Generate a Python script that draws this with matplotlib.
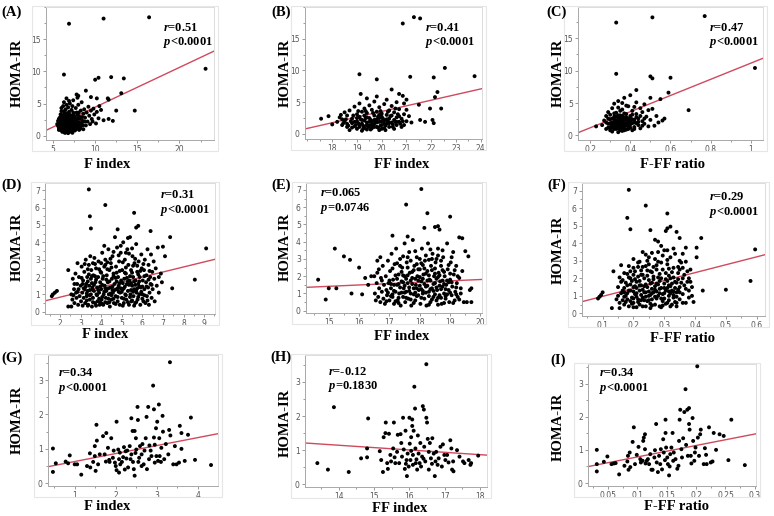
import numpy as np
import matplotlib
matplotlib.use("Agg")
import matplotlib.pyplot as plt
from matplotlib.ticker import AutoMinorLocator, FixedLocator
from matplotlib.patches import Rectangle

plt.rcParams['font.family'] = ['Liberation Serif', 'DejaVu Serif']
plt.rcParams['mathtext.fontset'] = 'custom'
plt.rcParams['mathtext.it'] = 'Liberation Serif:italic:bold'
plt.rcParams['mathtext.rm'] = 'Liberation Serif:bold'

W, H = 774, 516

# ---- data ----
pts_a = [(6.9, 17.4), (11.0, 18.2), (16.4, 18.4), (23.1, 10.4), (6.3, 9.5), (10.0, 8.7), (10.4, 9.0),
         (11.9, 9.1), (13.4, 8.9), (8.9, 7.0), (7.8, 6.4), (8.0, 6.2), (9.5, 6.0), (10.2, 5.8), (11.5, 5.8),
         (11.6, 5.6), (13.1, 6.6), (14.7, 3.9), (12.5, 3.9), (10.7, 4.0), (12.1, 2.3), (11.6, 2.6),
         (11.0, 2.4), (9.7, 2.2),
         (5.5, 1.8), (5.6, 2.3), (5.7, 1.2), (5.8, 2.8), (5.8, 1.5), (5.9, 3.3), (5.9, 0.9), (6.0, 2.0),
         (6.0, 1.3), (6.0, 3.8), (6.1, 2.5), (6.1, 1.0), (6.2, 4.6), (6.2, 1.7), (6.2, 3.0), (6.3, 0.7),
         (6.3, 2.2), (6.3, 5.2), (6.4, 1.4), (6.4, 3.5), (6.4, 2.8), (6.5, 0.5), (6.5, 1.9), (6.5, 4.1),
         (6.6, 1.1), (6.6, 2.6), (6.6, 5.8), (6.7, 3.2), (6.7, 0.8), (6.7, 1.6), (6.8, 2.1), (6.8, 4.4),
         (6.8, 0.4), (6.9, 1.3), (6.9, 2.9), (6.9, 3.7), (7.0, 1.8), (7.0, 0.9), (7.0, 5.0), (7.1, 2.4),
         (7.1, 1.2), (7.2, 3.1), (7.2, 0.6), (7.2, 4.0), (7.3, 1.7), (7.3, 2.7), (7.4, 1.0), (7.4, 3.6),
         (7.4, 5.5), (7.5, 2.2), (7.5, 1.4), (7.6, 2.9), (7.6, 0.8), (7.7, 4.3), (7.7, 1.9), (7.8, 2.5),
         (7.8, 1.1), (7.9, 3.3), (7.9, 5.9), (8.0, 1.6), (8.0, 2.1), (8.0, 4.8), (8.1, 3.0), (8.2, 1.3),
         (8.2, 2.6), (8.3, 3.9), (8.4, 1.9), (8.4, 5.2), (8.5, 2.3), (8.6, 3.4), (8.6, 1.0), (8.7, 4.1),
         (8.8, 2.8), (8.9, 1.6), (9.0, 3.6), (9.1, 2.2), (9.2, 4.5), (9.3, 3.1), (9.4, 1.8), (9.5, 3.9),
         (9.6, 2.6), (9.8, 4.2), (9.9, 3.3), (10.1, 1.9), (10.2, 3.7), (10.4, 2.7), (10.5, 4.6),
         (6.05, 1.55), (6.15, 2.05), (6.25, 1.25), (6.35, 1.85), (6.45, 2.35), (6.55, 1.45), (6.65, 2.15),
         (6.75, 1.25), (6.85, 1.75), (6.95, 2.45), (7.05, 1.45), (7.15, 1.95), (6.1, 0.6), (6.4, 0.45),
         (6.7, 0.55), (7.3, 0.45), (5.7, 2.6), (5.8, 1.9), (6.0, 2.7), (6.2, 2.6), (6.5, 3.0), (6.9, 0.65),
         (7.6, 1.3), (7.8, 3.6), (8.1, 0.9), (8.3, 1.5),
         (5.6, 1.5), (5.7, 0.9), (5.75, 2.0), (5.85, 1.2), (5.95, 2.3), (6.05, 0.8), (6.1, 3.2), (6.15, 1.15),
         (6.25, 1.9), (6.3, 3.8), (6.35, 1.0), (6.45, 2.6), (6.5, 1.2), (6.55, 3.5), (6.6, 0.7), (6.65, 1.8),
         (6.75, 2.9), (6.8, 1.5), (6.85, 0.9), (6.95, 3.3), (7.0, 2.2), (7.05, 0.7), (7.15, 2.8), (7.25, 1.4),
         (7.35, 2.2), (7.45, 3.2), (7.5, 0.9), (7.55, 1.8), (7.65, 2.4), (7.7, 1.0), (7.85, 1.5), (7.95, 2.7),
         (8.05, 3.6), (8.15, 2.0), (8.25, 1.1), (8.45, 2.9), (8.55, 1.6), (8.75, 2.2), (6.0, 4.3), (6.6, 4.8),
         (7.3, 4.6), (6.9, 5.4)]

pts_b = [(20.85, 17.4), (21.3, 18.4), (21.55, 18.2), (19.1, 9.4), (19.8, 8.6), (21.15, 9.0), (22.1, 8.9),
         (22.55, 10.4), (23.75, 9.1), (22.25, 6.6), (22.15, 5.8), (21.95, 4.0), (22.4, 4.0), (22.05, 2.2),
         (22.1, 1.7), (21.55, 2.2), (21.75, 1.9), (21.5, 4.6), (20.7, 6.3), (20.85, 6.0), (20.4, 7.0),
         (19.15, 6.3), (19.4, 5.6), (19.8, 5.9), (17.55, 2.4), (17.85, 2.8), (18.0, 1.5), (21.0, 3.8),
         (21.2, 1.8),
         (18.2, 1.9), (18.3, 2.6), (18.4, 1.4), (18.5, 3.4), (18.5, 2.0), (18.6, 1.1), (18.6, 2.9), (18.7, 3.7),
         (18.7, 0.6), (18.8, 1.7), (18.8, 2.4), (18.9, 4.3), (18.9, 1.2), (19.0, 3.1), (19.0, 2.0), (19.0, 0.8),
         (19.1, 4.8), (19.1, 2.7), (19.1, 1.5), (19.2, 3.5), (19.2, 0.5), (19.2, 2.2), (19.3, 1.0), (19.3, 4.0),
         (19.3, 2.9), (19.4, 1.8), (19.4, 3.3), (19.4, 0.7), (19.5, 2.5), (19.5, 1.3), (19.5, 4.5), (19.6, 2.0),
         (19.6, 3.8), (19.6, 0.9), (19.7, 1.6), (19.7, 2.9), (19.7, 5.1), (19.8, 1.1), (19.8, 2.3), (19.8, 3.5),
         (19.9, 0.6), (19.9, 1.9), (19.9, 4.2), (20.0, 2.7), (20.0, 1.4), (20.0, 3.2), (20.1, 0.9), (20.1, 2.1),
         (20.1, 4.7), (20.2, 1.6), (20.2, 3.0), (20.2, 5.4), (20.3, 2.4), (20.3, 1.1), (20.3, 3.7), (20.4, 1.8),
         (20.4, 2.9), (20.4, 4.4), (20.5, 0.8), (20.5, 2.2), (20.5, 3.4), (20.6, 1.4), (20.6, 2.6), (20.6, 5.0),
         (20.7, 1.9), (20.7, 3.9), (20.8, 2.4), (20.8, 1.1), (20.9, 3.1), (20.9, 4.8), (21.0, 2.0), (21.0, 5.4),
         (21.1, 2.8), (18.9, 1.9), (19.0, 2.5), (19.2, 1.6), (19.3, 2.1), (19.4, 2.6), (19.5, 1.9), (19.6, 1.5),
         (19.7, 2.2), (19.8, 1.8), (19.9, 2.5), (20.0, 2.0), (20.1, 1.6), (20.2, 2.3), (20.3, 1.7), (19.1, 1.1),
         (19.4, 1.4), (19.7, 1.1), (20.0, 0.8), (18.6, 1.6), (18.4, 2.3), (20.6, 1.9), (19.9, 3.0),
         (18.55, 2.3), (18.65, 1.3), (18.75, 2.0), (18.85, 2.9), (18.95, 1.4), (19.05, 1.7), (19.15, 2.3),
         (19.25, 1.3), (19.35, 2.5), (19.45, 1.1), (19.55, 2.2), (19.65, 1.2), (19.75, 1.9), (19.85, 2.7),
         (19.95, 1.3), (20.05, 2.4), (20.15, 1.3), (20.25, 2.0), (20.35, 2.8), (20.45, 1.5), (20.55, 1.9),
         (20.65, 3.1), (20.75, 1.6), (20.85, 2.0), (19.05, 3.6), (19.35, 3.6), (19.65, 3.3), (19.95, 3.6),
         (20.25, 3.5), (20.55, 4.0), (19.25, 0.8), (19.55, 0.7), (19.85, 1.0), (20.15, 0.6), (20.45, 1.1),
         (18.8, 1.0), (20.9, 1.4), (18.45, 1.7), (18.35, 3.0), (20.7, 2.8)]

pts_c = [(0.33, 17.4), (0.51, 18.2), (0.77, 18.4), (1.02, 10.4), (0.33, 9.5), (0.50, 9.1), (0.51, 8.8),
         (0.60, 8.9), (0.59, 6.6), (0.69, 3.9), (0.43, 7.0), (0.23, 1.4), (0.55, 5.6), (0.56, 2.3),
         (0.57, 2.6), (0.52, 1.5), (0.50, 5.8),
         (0.26, 1.6), (0.27, 2.3), (0.28, 1.0), (0.28, 3.0), (0.29, 1.8), (0.29, 3.6), (0.30, 0.8), (0.30, 2.5),
         (0.30, 1.3), (0.31, 4.2), (0.31, 2.0), (0.31, 0.6), (0.32, 2.9), (0.32, 1.5), (0.32, 4.9), (0.33, 1.0),
         (0.33, 2.3), (0.33, 3.5), (0.34, 0.5), (0.34, 1.8), (0.34, 2.7), (0.34, 5.3), (0.35, 1.2), (0.35, 3.1),
         (0.35, 2.1), (0.36, 0.7), (0.36, 1.6), (0.36, 4.0), (0.36, 2.5), (0.37, 1.1), (0.37, 3.4), (0.37, 5.8),
         (0.38, 1.9), (0.38, 2.8), (0.38, 0.9), (0.39, 2.2), (0.39, 4.5), (0.39, 1.4), (0.40, 3.0), (0.40, 6.2),
         (0.40, 1.7), (0.41, 2.5), (0.41, 0.8), (0.41, 3.8), (0.42, 1.3), (0.42, 2.0), (0.43, 3.3), (0.43, 5.1),
         (0.44, 1.6), (0.44, 2.6), (0.45, 4.2), (0.45, 1.1), (0.46, 2.2), (0.46, 3.6), (0.47, 1.8), (0.47, 4.8),
         (0.48, 2.9), (0.49, 1.4), (0.49, 3.9), (0.50, 2.4), (0.51, 4.1), (0.53, 3.0), (0.54, 2.0), (0.33, 1.6),
         (0.34, 2.2), (0.35, 1.5), (0.36, 2.0), (0.37, 1.5), (0.38, 2.4), (0.35, 2.6), (0.32, 2.0), (0.31, 1.2),
         (0.33, 2.9), (0.36, 3.0), (0.39, 1.0), (0.40, 2.2), (0.34, 1.1), (0.37, 2.4), (0.30, 3.2), (0.29, 2.6),
         (0.28, 2.0), (0.29, 1.2), (0.30, 1.9), (0.31, 2.6), (0.31, 1.6), (0.32, 1.0), (0.32, 3.4), (0.33, 2.0),
         (0.33, 1.3), (0.34, 1.5), (0.34, 3.1), (0.35, 0.8), (0.35, 1.8), (0.35, 3.8), (0.36, 1.3), (0.36, 2.3),
         (0.37, 1.9), (0.37, 2.8), (0.37, 0.8), (0.38, 1.5), (0.38, 3.3), (0.39, 1.8), (0.39, 2.6), (0.40, 1.2),
         (0.40, 2.6), (0.41, 1.9), (0.41, 3.2), (0.42, 2.4), (0.42, 1.0), (0.43, 1.9), (0.43, 2.8), (0.44, 2.1),
         (0.45, 3.0), (0.46, 1.5), (0.47, 2.6), (0.32, 2.5), (0.34, 4.3), (0.38, 4.6), (0.42, 4.4), (0.36, 5.0)]

pts_d = [(3.4, 7.05), (4.2, 6.15), (5.6, 5.7), (3.45, 5.5), (3.5, 4.8), (4.8, 4.75), (5.7, 4.85), (5.8, 4.95),
         (9.1, 3.65), (8.55, 1.85), (7.45, 1.35), (7.35, 4.3), (7.1, 3.2), (1.6, 0.9), (1.65, 1.0), (1.75, 1.1),
         (1.85, 1.2), (2.4, 2.4), (2.85, 2.8), (2.4, 0.3), (2.55, 0.3), (6.8, 2.0), (7.0, 3.75), (6.4, 4.65),
         (5.3, 4.25),
         (2.55, 1.0), (2.6, 0.7), (2.62, 1.9), (2.68, 1.3), (2.7, 0.5), (2.75, 2.2), (2.78, 1.1), (2.8, 0.8),
         (2.83, 1.6), (2.88, 0.4), (2.9, 1.3), (2.92, 2.0), (2.95, 0.9),
         (3.0, 1.5), (3.02, 0.6), (3.05, 2.6), (3.08, 1.1), (3.1, 0.35), (3.12, 1.8), (3.15, 0.8), (3.18, 2.3),
         (3.2, 1.3), (3.22, 0.5), (3.25, 3.0), (3.27, 1.6), (3.3, 0.9), (3.32, 2.0), (3.35, 1.2), (3.37, 0.4),
         (3.4, 2.7), (3.42, 1.5), (3.45, 0.7), (3.47, 3.2), (3.5, 1.9), (3.5, 1.0), (3.52, 2.4), (3.55, 0.3),
         (3.57, 1.4), (3.6, 0.8), (3.62, 2.1), (3.65, 1.2), (3.67, 3.1), (3.7, 0.5), (3.72, 1.7), (3.75, 2.5),
         (3.77, 1.0), (3.8, 1.4), (3.82, 0.6), (3.85, 2.0), (3.87, 2.9), (3.9, 1.1), (3.92, 0.4), (3.95, 1.7),
         (3.97, 2.3),
         (4.0, 1.3), (4.02, 0.7), (4.05, 3.4), (4.07, 1.9), (4.1, 0.4), (4.12, 1.0), (4.15, 2.6), (4.17, 1.5),
         (4.2, 3.0), (4.22, 0.8), (4.25, 1.2), (4.27, 2.1), (4.3, 0.5), (4.32, 1.7), (4.35, 3.6), (4.37, 1.0),
         (4.4, 2.4), (4.42, 0.3), (4.45, 1.4), (4.47, 2.8), (4.5, 0.7), (4.52, 1.9), (4.55, 3.2), (4.57, 1.1),
         (4.6, 2.2), (4.62, 0.5), (4.65, 1.6), (4.67, 4.3), (4.7, 0.9), (4.72, 2.6), (4.75, 1.3), (4.77, 3.7),
         (4.8, 0.6), (4.82, 2.0), (4.85, 1.5), (4.87, 2.9), (4.9, 0.4), (4.92, 1.1), (4.95, 3.4), (4.97, 1.8),
         (5.0, 0.8), (5.02, 2.4), (5.05, 1.3), (5.07, 4.0), (5.1, 0.5), (5.12, 1.9), (5.15, 3.0), (5.17, 1.0),
         (5.2, 2.2), (5.22, 0.7), (5.25, 1.6), (5.27, 3.6), (5.3, 1.2), (5.32, 2.7), (5.35, 0.4), (5.37, 1.8),
         (5.4, 4.3), (5.42, 1.0), (5.45, 2.4), (5.47, 0.6), (5.5, 1.5), (5.52, 3.2), (5.55, 2.0), (5.57, 0.9),
         (5.6, 1.3), (5.62, 2.8), (5.65, 0.5), (5.67, 1.8), (5.7, 3.9), (5.72, 1.1), (5.75, 2.3), (5.77, 0.7),
         (5.8, 1.6), (5.82, 2.9), (5.85, 1.0), (5.87, 2.0), (5.9, 0.4), (5.92, 1.4), (5.95, 3.3), (5.97, 2.5),
         (6.0, 1.0), (6.02, 1.8), (6.05, 0.6), (6.08, 2.4), (6.1, 1.3), (6.12, 3.0), (6.15, 0.5), (6.18, 1.7),
         (6.2, 2.1), (6.22, 0.9), (6.25, 3.6), (6.28, 1.4), (6.3, 2.7), (6.32, 0.4), (6.35, 1.1), (6.38, 2.0),
         (6.4, 1.6), (6.42, 3.3), (6.45, 0.8), (6.48, 2.3), (6.5, 1.3), (6.55, 2.9), (6.58, 1.9), (6.6, 0.6),
         (6.65, 2.5), (6.7, 1.5), (6.75, 3.7), (6.8, 1.1), (6.9, 2.2), (6.95, 1.7),
         (3.25, 1.45), (3.45, 1.25), (3.65, 1.55), (3.85, 1.25), (4.05, 1.55), (4.25, 1.85), (4.45, 1.05),
         (4.65, 1.25), (4.85, 1.15), (5.05, 1.65), (5.25, 1.95), (5.45, 1.25), (5.65, 1.55), (5.85, 1.75),
         (3.35, 1.75), (3.55, 1.65), (3.75, 1.85), (3.95, 1.45), (4.15, 1.15), (4.35, 1.35), (4.55, 1.45),
         (4.75, 1.75), (4.95, 1.35), (5.15, 1.45), (5.35, 1.55), (5.55, 1.15), (5.75, 1.35), (5.95, 1.15),
         (3.3, 0.65), (3.6, 0.55), (3.9, 0.75), (4.2, 0.55), (4.5, 0.95), (4.8, 0.85), (5.1, 0.75), (5.4, 0.85),
         (5.7, 0.55), (6.0, 0.75), (3.4, 2.15), (3.7, 2.05), (4.0, 2.25), (4.3, 2.45), (4.6, 2.05), (4.9, 2.35),
         (5.2, 2.55), (5.5, 2.25), (5.8, 2.15), (6.1, 2.05),
         (3.05, 1.95), (3.15, 1.35), (3.2, 2.75), (3.3, 1.05), (3.35, 2.45), (3.45, 0.95), (3.55, 2.05),
         (3.6, 1.25), (3.7, 2.75), (3.8, 0.95), (3.9, 2.45), (3.95, 0.55), (4.05, 0.85), (4.1, 2.05), (4.2, 1.35),
         (4.3, 2.85), (4.35, 0.75), (4.4, 1.75), (4.5, 2.55), (4.55, 1.25), (4.6, 0.75), (4.7, 1.95), (4.75, 2.25),
         (4.8, 1.35), (4.85, 3.25), (4.9, 1.65), (5.0, 1.15), (5.05, 2.85), (5.1, 1.35), (5.15, 2.25), (5.2, 0.95),
         (5.3, 1.75), (5.35, 3.35), (5.4, 2.05), (5.45, 1.65), (5.5, 0.65), (5.55, 2.65), (5.6, 1.75), (5.65, 3.05),
         (5.7, 1.25), (5.75, 2.65), (5.8, 0.85), (5.85, 1.45), (5.9, 2.35), (6.0, 1.45), (6.05, 2.75), (6.1, 0.95),
         (6.2, 1.45), (6.3, 1.85), (6.35, 2.35), (6.45, 1.55), (4.45, 3.05), (4.6, 3.45), (4.95, 3.8), (5.2, 3.4),
         (5.5, 3.65), (4.2, 2.7), (4.0, 2.8), (3.6, 2.8), (4.15, 3.8), (3.1, 1.6), (2.85, 1.15), (2.7, 1.6),
         (2.65, 0.95), (5.3, 0.55), (4.7, 0.45), (4.05, 0.45), (5.6, 0.35), (6.25, 0.65), (5.05, 0.35),
         (3.35, 0.35), (4.4, 0.55), (3.75, 0.35)]

pts_e = [(14.65, 1.8), (14.9, 0.65), (15.0, 1.3), (15.2, 3.6), (15.25, 1.3), (15.5, 3.15), (15.7, 2.95),
         (15.75, 1.0), (16.0, 2.5), (16.1, 0.95), (16.2, 1.9), (18.05, 7.05), (17.55, 6.15), (18.25, 5.65),
         (19.0, 5.45), (18.5, 4.85), (18.6, 4.9), (18.65, 4.7), (18.15, 4.8), (17.1, 4.35), (19.3, 4.25),
         (19.4, 4.2), (19.5, 3.45), (19.6, 3.15), (19.45, 0.5), (19.55, 0.5), (19.7, 0.5), (19.65, 1.2),
         (19.7, 1.3), (16.3, 1.5), (16.4, 2.0), (16.5, 2.0), (16.6, 2.9), (16.7, 3.1),
         (16.52, 1.0), (16.55, 0.6), (16.58, 1.6), (16.6, 2.2), (16.63, 0.8), (16.66, 1.3), (16.7, 0.5),
         (16.72, 1.9), (16.75, 1.1), (16.78, 2.6), (16.8, 0.7), (16.82, 1.5), (16.85, 0.4), (16.88, 2.0),
         (16.9, 1.2), (16.92, 0.9), (16.95, 2.9), (16.97, 1.6),
         (17.0, 0.6), (17.02, 2.3), (17.05, 1.3), (17.07, 3.3), (17.1, 0.8), (17.12, 1.8), (17.15, 0.4),
         (17.17, 2.7), (17.2, 1.1), (17.22, 3.6), (17.25, 1.5), (17.27, 0.6), (17.3, 2.1), (17.32, 1.0),
         (17.35, 3.0), (17.37, 0.3), (17.4, 1.7), (17.42, 2.5), (17.45, 0.8), (17.47, 1.3), (17.5, 3.9),
         (17.5, 2.0), (17.52, 0.5), (17.55, 1.1), (17.57, 2.8), (17.6, 1.6), (17.62, 0.7), (17.65, 3.4),
         (17.67, 2.2), (17.7, 1.0), (17.72, 0.3), (17.75, 1.9), (17.77, 4.1), (17.8, 1.3), (17.82, 2.6),
         (17.85, 0.6), (17.87, 1.5), (17.9, 3.1), (17.92, 2.0), (17.95, 0.9), (17.97, 1.2), (17.6, 4.3),
         (18.0, 2.4), (18.02, 0.4), (18.05, 1.7), (18.07, 3.6), (18.1, 1.0), (18.12, 2.1), (18.15, 0.7),
         (18.17, 2.9), (18.2, 1.4), (18.22, 0.3), (18.25, 2.3), (18.27, 3.9), (18.3, 1.1), (18.32, 1.8),
         (18.35, 0.5), (18.37, 2.6), (18.4, 1.3), (18.42, 3.3), (18.45, 0.8), (18.47, 2.0), (18.5, 1.6),
         (18.52, 2.8), (18.55, 0.6), (18.57, 1.2), (18.6, 3.6), (18.62, 2.2), (18.65, 0.9), (18.67, 1.7),
         (18.7, 2.6), (18.72, 0.4), (18.75, 1.4), (18.77, 3.1), (18.8, 1.0), (18.82, 2.0), (18.85, 0.7),
         (18.87, 1.5), (18.9, 3.9), (18.92, 2.4), (18.95, 1.2), (18.97, 0.5),
         (19.0, 1.8), (19.02, 2.8), (19.05, 0.9), (19.07, 1.4), (19.1, 3.4), (19.12, 2.1), (19.15, 0.6),
         (19.17, 1.1), (19.2, 2.6), (19.22, 1.6), (19.25, 0.8), (19.3, 1.9), (19.35, 1.3), (19.4, 2.3),
         (17.05, 1.55), (17.15, 1.15), (17.25, 1.85), (17.35, 1.35), (17.45, 1.65), (17.55, 1.85), (17.65, 1.35),
         (17.75, 1.55), (17.85, 1.05), (17.95, 1.75), (18.05, 1.25), (18.15, 1.55), (18.25, 1.75), (18.35, 1.25),
         (18.45, 1.55), (18.55, 1.85), (18.65, 1.45), (18.75, 1.75), (18.85, 1.25), (18.95, 1.65), (17.1, 0.95),
         (17.3, 0.75), (17.5, 1.05), (17.7, 0.65), (17.9, 0.85), (18.1, 1.15), (18.3, 0.85), (18.5, 0.95),
         (18.7, 0.75), (18.9, 0.95), (17.2, 2.05), (17.4, 2.25), (17.6, 2.05), (17.8, 2.35), (18.0, 1.95),
         (18.2, 2.15), (18.4, 2.35), (18.6, 1.95), (18.8, 2.25), (19.0, 2.15), (18.1, 2.65), (18.3, 2.95),
         (18.5, 2.45), (17.9, 2.7), (18.7, 2.9), (18.4, 3.0), (18.2, 3.2), (18.6, 3.2), (18.0, 3.0), (17.7, 2.9),
         (16.95, 1.05), (17.0, 1.75), (17.1, 2.45), (17.15, 1.5), (17.2, 0.55), (17.3, 1.55), (17.35, 2.6),
         (17.4, 1.05), (17.45, 2.05), (17.5, 1.45), (17.55, 0.75), (17.6, 2.5), (17.65, 1.15), (17.7, 1.75),
         (17.75, 2.25), (17.8, 0.95), (17.85, 1.85), (17.9, 1.3), (17.95, 2.4), (18.0, 1.45), (18.05, 0.75),
         (18.1, 1.85), (18.15, 2.45), (18.2, 1.05), (18.25, 1.45), (18.3, 2.05), (18.35, 1.75), (18.4, 0.65),
         (18.45, 1.15), (18.5, 2.15), (18.55, 1.35), (18.6, 0.75), (18.65, 2.05), (18.7, 1.25), (18.75, 2.35),
         (18.8, 1.55), (18.85, 0.85), (18.9, 1.75), (18.95, 2.65), (19.0, 1.05), (19.05, 1.65), (19.1, 0.45),
         (19.15, 2.35), (19.2, 1.35), (19.25, 2.0), (19.3, 0.65), (17.25, 2.75), (17.45, 3.15), (17.85, 3.45),
         (18.35, 3.55), (18.75, 3.5), (19.05, 3.1), (18.05, 2.75), (18.55, 3.0), (17.6, 3.1), (17.3, 0.45),
         (17.8, 0.45), (18.3, 0.35), (18.8, 0.45), (18.6, 0.35), (17.05, 0.85), (16.9, 0.55), (16.75, 1.75),
         (16.65, 2.4), (19.35, 1.0), (19.2, 0.95)]

pts_f = [(0.185, 7.05), (0.24, 6.15), (0.31, 5.7), (0.18, 5.45), (0.19, 4.8), (0.255, 4.75), (0.305, 4.7),
         (0.31, 4.85), (0.32, 4.95), (0.34, 4.65), (0.35, 4.3), (0.42, 4.3), (0.405, 3.75), (0.405, 3.2),
         (0.385, 2.5), (0.37, 2.95), (0.595, 3.65), (0.58, 1.85), (0.5, 1.35), (0.425, 1.3), (0.395, 0.65),
         (0.085, 0.85), (0.09, 0.95), (0.095, 1.05), (0.1, 1.2), (0.135, 2.4), (0.16, 2.75), (0.13, 0.3),
         (0.155, 0.3), (0.37, 3.75), (0.36, 3.4),
         (0.15, 1.0), (0.155, 0.6), (0.16, 1.8), (0.165, 1.3), (0.17, 0.5), (0.17, 2.3), (0.175, 1.0),
         (0.18, 0.8), (0.18, 1.6), (0.185, 0.4), (0.185, 2.7), (0.19, 1.3), (0.19, 2.0), (0.195, 0.9),
         (0.2, 1.5), (0.2, 0.6), (0.2, 3.1), (0.205, 1.1), (0.205, 2.4), (0.21, 0.35), (0.21, 1.8),
         (0.215, 0.8), (0.215, 2.9), (0.22, 1.3), (0.22, 0.5), (0.225, 2.2), (0.225, 1.6), (0.23, 0.9),
         (0.23, 3.5), (0.235, 2.0), (0.235, 1.2), (0.24, 0.4), (0.24, 2.7), (0.245, 1.5), (0.245, 0.7),
         (0.25, 3.2), (0.25, 1.9), (0.25, 1.0), (0.255, 2.4), (0.255, 0.3), (0.26, 1.4), (0.26, 0.8),
         (0.265, 2.1), (0.265, 1.2), (0.27, 3.1), (0.27, 0.5), (0.275, 1.7), (0.275, 2.5), (0.28, 1.0),
         (0.28, 4.1), (0.285, 1.4), (0.285, 0.4), (0.29, 2.0), (0.29, 2.9), (0.295, 1.1), (0.295, 0.7),
         (0.3, 1.7), (0.3, 3.6), (0.305, 2.3), (0.305, 1.3), (0.31, 0.6), (0.31, 2.8), (0.315, 1.6),
         (0.315, 1.0), (0.32, 3.2), (0.32, 2.0), (0.325, 0.5), (0.325, 1.3), (0.33, 2.6), (0.33, 0.9),
         (0.335, 1.8), (0.335, 3.4), (0.34, 1.2), (0.34, 0.4), (0.345, 2.3), (0.35, 1.5), (0.35, 0.8),
         (0.355, 2.9), (0.36, 1.1), (0.36, 2.0), (0.365, 1.6), (0.37, 0.6), (0.375, 2.4), (0.38, 1.3),
         (0.385, 1.8), (0.39, 1.0),
         (0.17, 1.45), (0.18, 1.15), (0.19, 1.65), (0.2, 1.25), (0.21, 1.45), (0.22, 1.85), (0.23, 1.35),
         (0.24, 1.65), (0.25, 1.25), (0.26, 1.75), (0.27, 1.35), (0.28, 1.65), (0.29, 1.45), (0.3, 1.15),
         (0.31, 1.85), (0.32, 1.55), (0.33, 1.25), (0.34, 1.75), (0.175, 0.65), (0.195, 0.55), (0.215, 0.65),
         (0.235, 0.75), (0.255, 0.55), (0.275, 0.85), (0.295, 0.45), (0.315, 0.75), (0.335, 0.65),
         (0.185, 2.05), (0.205, 1.95), (0.225, 2.45), (0.245, 2.15), (0.265, 1.95), (0.285, 2.25),
         (0.305, 1.95), (0.325, 2.35), (0.345, 1.95), (0.215, 2.65), (0.245, 3.0), (0.275, 2.75), (0.295, 3.3),
         (0.315, 2.55), (0.225, 1.05), (0.255, 1.05), (0.285, 1.15), (0.315, 1.25), (0.21, 1.15), (0.24, 0.95),
         (0.27, 1.55), (0.3, 0.85), (0.33, 1.05), (0.345, 1.35), (0.36, 2.6), (0.35, 3.0), (0.22, 2.95),
         (0.19, 2.4), (0.165, 1.9), (0.17, 0.95), (0.2, 0.85), (0.26, 2.35), (0.28, 2.95), (0.31, 3.05),
         (0.16, 1.15), (0.165, 0.75), (0.175, 1.75), (0.18, 2.25), (0.185, 1.3), (0.19, 0.7), (0.195, 1.85),
         (0.2, 2.6), (0.205, 1.55), (0.21, 0.95), (0.215, 2.1), (0.22, 1.6), (0.225, 0.75), (0.23, 2.2),
         (0.235, 1.55), (0.24, 1.2), (0.245, 2.45), (0.25, 0.75), (0.255, 1.7), (0.26, 1.15), (0.265, 2.65),
         (0.27, 0.95), (0.275, 1.25), (0.28, 2.05), (0.285, 1.85), (0.29, 0.85), (0.295, 2.5), (0.3, 1.45),
         (0.305, 0.55), (0.31, 1.45), (0.315, 2.15), (0.32, 1.15), (0.325, 1.7), (0.33, 2.05), (0.335, 1.45),
         (0.34, 0.95), (0.345, 2.65), (0.35, 1.2), (0.355, 1.75), (0.36, 0.6), (0.365, 2.2), (0.37, 1.4),
         (0.375, 1.8), (0.38, 0.9), (0.26, 3.45), (0.28, 3.5), (0.31, 3.6), (0.33, 3.7), (0.24, 3.35),
         (0.27, 4.2), (0.29, 3.85), (0.2, 2.2), (0.23, 2.65), (0.25, 2.8), (0.2, 0.35), (0.23, 0.4), (0.26, 0.45),
         (0.29, 0.35), (0.32, 0.4), (0.34, 0.6), (0.17, 1.2), (0.15, 1.5), (0.145, 0.8), (0.155, 2.05),
         (0.39, 1.5), (0.38, 2.0), (0.35, 2.5)]

pts_g = [(0.47, 1.01), (0.47, 0.33), (0.54, 0.58), (0.78, 0.63), (0.88, 0.81), (0.84, 0.58), (1.0, 0.55),
         (1.06, 0.55), (1.16, 0.25), (1.30, 0.50), (1.38, 0.46), (1.37, 0.87), (1.49, 0.79), (1.45, 0.62),
         (1.49, 1.08), (1.53, 1.70), (1.54, 1.24), (1.51, 0.36), (1.57, 0.55), (1.61, 0.84), (1.69, 1.37),
         (1.73, 0.84), (1.77, 1.46), (1.76, 0.63), (1.81, 1.03), (1.84, 0.68), (1.85, 0.62), (1.89, 1.31),
         (1.93, 0.74), (1.98, 0.60), (2.0, 0.50), (2.02, 1.79), (2.02, 0.38), (2.06, 0.98), (2.08, 0.70),
         (2.10, 0.89), (2.08, 0.31), (2.11, 0.55), (2.18, 0.76), (2.20, 1.05), (2.24, 0.93), (2.26, 0.72),
         (2.30, 0.46), (2.34, 1.08), (2.38, 1.89), (2.38, 0.84), (2.41, 1.52), (2.42, 0.62), (2.44, 0.41),
         (2.46, 0.22), (2.46, 1.52), (2.49, 1.31), (2.50, 0.98), (2.53, 2.22), (2.54, 1.84), (2.57, 0.74),
         (2.59, 1.08), (2.63, 0.84), (2.63, 0.50), (2.65, 1.14), (2.68, 0.55), (2.73, 1.31), (2.75, 1.93),
         (2.76, 0.41), (2.79, 2.22), (2.81, 0.70), (2.85, 0.95), (2.87, 0.79), (2.91, 2.84), (2.93, 2.15),
         (2.93, 1.33), (2.95, 1.12), (2.95, 0.60), (2.98, 1.60), (2.99, 0.79), (3.01, 1.79), (3.03, 0.65),
         (3.05, 2.29), (3.06, 1.31), (3.07, 0.79), (3.11, 1.03), (3.14, 1.96), (3.15, 1.50), (3.18, 0.70),
         (3.22, 1.14), (3.28, 0.84), (3.30, 1.55), (3.32, 3.52), (3.33, 1.39), (3.40, 0.55), (3.44, 1.08),
         (3.48, 0.55), (3.54, 0.60), (3.56, 1.67), (3.60, 1.46), (3.60, 1.00), (3.68, 0.65), (3.76, 1.41),
         (3.83, 1.91), (3.93, 0.68), (4.32, 0.53), (2.15, 0.62), (2.28, 0.95), (2.36, 0.70), (2.55, 0.62),
         (2.70, 0.95), (2.82, 1.10), (1.95, 0.95), (2.22, 0.40), (2.48, 0.88), (3.10, 0.62)]

pts_h = [(13.39, 0.62), (13.69, 0.43), (13.86, 2.26), (14.28, 0.36), (14.63, 0.76), (14.83, 1.93), (14.80, 1.05),
         (14.80, 0.79), (15.16, 0.97), (15.20, 0.71), (15.25, 0.36), (15.27, 1.38), (15.32, 1.50), (15.33, 1.81),
         (15.37, 0.62), (15.42, 1.48), (15.39, 0.45), (15.46, 0.86), (15.48, 0.67), (15.54, 1.05), (15.56, 1.81),
         (15.58, 0.79), (15.60, 0.62), (15.65, 0.95), (15.67, 1.45), (15.71, 0.62), (15.75, 1.47), (15.77, 1.21),
         (15.79, 0.81), (15.82, 1.95), (15.84, 1.02), (15.87, 0.45), (15.89, 1.57), (15.92, 0.71), (15.93, 0.24),
         (15.95, 0.90), (15.98, 0.52), (16.00, 1.95), (16.01, 1.19), (16.03, 0.71), (16.05, 1.38), (16.08, 1.71),
         (16.08, 1.90), (16.10, 0.86), (16.10, 0.57), (16.12, 1.57), (16.14, 2.86), (16.16, 2.22), (16.17, 1.05),
         (16.20, 0.73), (16.22, 0.43), (16.24, 1.43), (16.26, 0.90), (16.29, 0.62), (16.31, 1.21), (16.33, 0.52),
         (16.36, 0.81), (16.38, 2.29), (16.41, 2.19), (16.42, 1.10), (16.45, 0.67), (16.48, 3.52), (16.48, 1.95),
         (16.50, 1.81), (16.52, 1.33), (16.55, 0.95), (16.55, 0.43), (16.58, 1.21), (16.61, 0.76), (16.64, 0.60),
         (16.69, 0.90), (16.72, 0.24), (16.74, 0.67), (16.76, 0.95), (16.80, 0.57), (16.83, 0.76), (16.88, 1.10),
         (16.92, 0.52), (16.95, 1.17), (16.99, 0.86), (17.02, 0.71), (17.07, 0.86), (17.11, 0.64), (17.16, 1.29),
         (17.19, 1.05), (17.21, 0.43), (17.24, 0.67), (17.25, 0.38), (17.35, 1.00), (17.42, 0.81), (17.52, 0.67),
         (17.56, 0.62), (17.68, 0.71), (17.73, 0.57), (17.75, 0.62), (17.95, 0.84), (16.18, 0.62), (16.05, 0.98),
         (15.90, 0.60), (16.40, 0.75), (16.65, 1.35)]

pts_i = [(0.031, 1.00), (0.031, 0.35), (0.031, 0.57), (0.043, 0.64), (0.049, 0.80), (0.056, 0.57), (0.060, 0.59),
         (0.063, 0.60), (0.069, 0.26), (0.078, 0.52), (0.083, 0.65), (0.084, 0.82), (0.085, 0.40), (0.087, 0.92),
         (0.088, 0.48), (0.092, 1.24), (0.094, 1.68), (0.096, 0.57), (0.099, 0.85), (0.102, 1.09), (0.105, 0.72),
         (0.106, 0.62), (0.109, 0.67), (0.110, 1.27), (0.111, 1.37), (0.113, 1.47), (0.113, 1.02), (0.114, 0.59),
         (0.116, 0.67), (0.118, 0.72), (0.120, 0.57), (0.122, 0.87), (0.124, 0.40), (0.126, 0.40), (0.129, 0.77),
         (0.130, 0.99), (0.132, 1.78), (0.133, 0.62), (0.135, 0.33), (0.137, 0.82), (0.139, 0.57), (0.140, 1.02),
         (0.142, 0.41), (0.144, 1.32), (0.145, 0.92), (0.147, 0.69), (0.148, 1.91), (0.148, 1.51), (0.149, 1.07),
         (0.151, 0.77), (0.152, 0.57), (0.154, 0.23), (0.155, 0.50), (0.156, 0.87), (0.158, 1.07), (0.160, 1.51),
         (0.161, 0.67), (0.162, 0.92), (0.165, 0.72), (0.168, 0.43), (0.170, 0.52), (0.171, 1.27), (0.172, 1.91),
         (0.173, 2.21), (0.175, 1.02), (0.176, 0.77), (0.178, 1.35), (0.180, 2.14), (0.182, 2.83), (0.183, 1.15),
         (0.185, 2.21), (0.186, 0.82), (0.188, 2.26), (0.188, 1.78), (0.189, 1.61), (0.191, 0.82), (0.192, 0.59),
         (0.194, 1.96), (0.195, 1.27), (0.197, 0.67), (0.198, 0.92), (0.199, 1.07), (0.202, 3.52), (0.203, 1.37),
         (0.205, 0.82), (0.207, 1.47), (0.208, 1.61), (0.213, 0.57), (0.215, 1.05), (0.217, 0.85), (0.218, 0.57),
         (0.222, 1.68), (0.225, 0.62), (0.228, 0.65), (0.230, 1.51), (0.234, 1.00), (0.240, 1.47), (0.247, 1.42),
         (0.255, 0.69), (0.260, 1.91), (0.283, 0.54)]

# regression lines: (intercept, slope)
fit_a, fit_b, fit_c = (-1.75, 0.618), (-14.22, 0.888), (-1.32, 12.47)
fit_d, fit_e, fit_f = (0.26, 0.29), (0.23, 0.079), (0.52, 4.51)
fit_g, fit_h, fit_i = (0.40, 0.232), (2.11, -0.069), (0.44, 3.46)

stats = [("0.51", "<0.0001"), ("0.41", "<0.0001"), ("0.47", "<0.0001"),
         ("0.31", "<0.0001"), ("0.065", "=0.0746"), ("0.29", "<0.0001"),
         ("0.34", "<0.0001"), ("-0.12", "=0.1830"), ("0.34", "<0.0001")]
letters = ["(A)", "(B)", "(C)", "(D)", "(E)", "(F)", "(G)", "(H)", "(I)"]
xlabels = ["F index", "FF index", "F-FF ratio"] * 3

xticks = [[5, 10, 15, 20], [18, 19, 20, 21, 22, 23, 24], [0.2, 0.4, 0.6, 0.8, 1.0],
          [2, 3, 4, 5, 6, 7, 8, 9], [15, 16, 17, 18, 19, 20], [0.1, 0.2, 0.3, 0.4, 0.5, 0.6],
          [1, 2, 3, 4], [14, 15, 16, 17, 18], [0.05, 0.1, 0.15, 0.2, 0.25, 0.3]]
xticklabels = [None, None, ["0.2", "0.4", "0.6", "0.8", "1"],
               None, None, None, None, None, ["0.05", "0.1", "0.15", "0.2", "0.25", "0.3"]]
yticks = [[0, 5, 10, 15]] * 3 + [list(range(8))] * 3 + [[0, 1, 2, 3]] * 3

# ---- layout (pixels) ----
boxes = [(46, 7, 214, 140), (305, 7, 482, 139), (578, 7, 763, 140),
         (45, 183, 215, 314), (306, 183, 482, 313), (582, 183, 765, 316),
         (48, 355, 218, 486), (305, 355, 487, 487), (588, 364, 756, 486)]
lims = [((4.17, 24.1), (-0.67, 20.0)), ((16.9, 24.05), (-0.8, 20.0)), ((0.14, 1.06), (-0.7, 19.8)),
        ((1.27, 9.53), (-0.13, 7.42)), ((14.25, 20.05), (-0.13, 7.4)), ((0.033, 0.627), (-0.15, 7.44)),
        ((0.35, 4.49), (-0.08, 3.73)), ((13.04, 18.2), (-0.08, 3.79)), ((0.016, 0.302), (-0.09, 3.59))]
letter_pos = [(12, 12), (281, 12), (557, 12), (12, 185), (281, 185), (557, 185),
              (12, 358), (281, 357), (558, 360)]
ylab_pos = [(17, 73), (285, 73), (558, 73), (17, 247), (285, 247), (558, 250),
            (17, 420), (285, 423), (558, 427)]
xlab_pos = [(107, 164), (402, 164), (673, 164), (105, 335), (402, 336), (682, 339),
            (107, 507), (400, 508), (677, 507)]
stat_pos = [(163, 28), (425, 28), (709, 28), (160, 195), (320, 193), (709, 197),
            (58, 373), (328, 372), (599, 373)]

all_pts = [pts_a, pts_b, pts_c, pts_d, pts_e, pts_f, pts_g, pts_h, pts_i]
fits = [fit_a, fit_b, fit_c, fit_d, fit_e, fit_f, fit_g, fit_h, fit_i]

fig = plt.figure(figsize=(W / 100, H / 100), dpi=100)
fig.patch.set_facecolor("white")


def fx(x):
    return x / W


def fy(y):
    return 1 - y / H


for k in range(9):
    l, t, r, b = boxes[k]
    # faint frame around plot + tick labels
    fig.patches.append(Rectangle((fx(l - 14), fy(b + 11)), (r - l + 18) / W, (b - t + 12) / H,
                                 transform=fig.transFigure, fill=False, edgecolor="#e6e6e6", lw=0.8))
    ax = fig.add_axes([fx(l), fy(b), (r - l) / W, (b - t) / H])
    pts = np.array(all_pts[k])
    ax.scatter(pts[:, 0], pts[:, 1], s=8, color="black", edgecolors="none", zorder=3)
    (x0, x1), (y0, y1) = lims[k]
    xx = np.array([x0, x1])
    a, m = fits[k]
    ax.plot(xx, a + m * xx, color="#cf4a5c", lw=1.0, zorder=2)
    ax.set_xlim(x0, x1)
    ax.set_ylim(y0, y1)
    ax.xaxis.set_major_locator(FixedLocator(xticks[k]))
    if xticklabels[k] is not None:
        ax.set_xticklabels(xticklabels[k])
    ax.yaxis.set_major_locator(FixedLocator(yticks[k]))
    ax.xaxis.set_minor_locator(AutoMinorLocator(2))
    ax.yaxis.set_minor_locator(AutoMinorLocator(2))
    ax.tick_params(which="both", direction="out", colors="#888888", labelcolor="#555555",
                   labelsize=5.5, width=0.6, pad=1.2)
    ax.tick_params(which="major", length=2.5)
    ax.tick_params(which="minor", length=1.5)
    for lab in ax.get_xticklabels() + ax.get_yticklabels():
        lab.set_family(["DejaVu Sans"])
    for sp in ["left", "bottom"]:
        ax.spines[sp].set_color("#a8a8a8")
        ax.spines[sp].set_linewidth(0.7)
    for sp in ["top", "right"]:
        ax.spines[sp].set_color("#dcdcdc")
        ax.spines[sp].set_linewidth(0.7)

    rv, pv = stats[k]
    sx, sy = stat_pos[k]
    fig.text(fx(sx), fy(sy), r"$r$=" + rv, fontsize=9, fontweight="bold", va="center", ha="left")
    fig.text(fx(sx), fy(sy + 15), r"$p$" + pv, fontsize=9, fontweight="bold", va="center", ha="left")

    lx, ly = letter_pos[k]
    fig.text(fx(lx), fy(ly), letters[k], fontsize=10.5, fontweight="bold", ha="center", va="center")
    yx, yy = ylab_pos[k]
    fig.text(fx(yx), fy(yy), "HOMA-IR", fontsize=10.5, fontweight="bold", rotation=90,
             ha="center", va="center")
    xlx, xly = xlab_pos[k]
    fig.text(fx(xlx), fy(xly), xlabels[k], fontsize=10.5, fontweight="bold", ha="center", va="center")

fig.savefig("out.png", dpi=100, facecolor="white")
